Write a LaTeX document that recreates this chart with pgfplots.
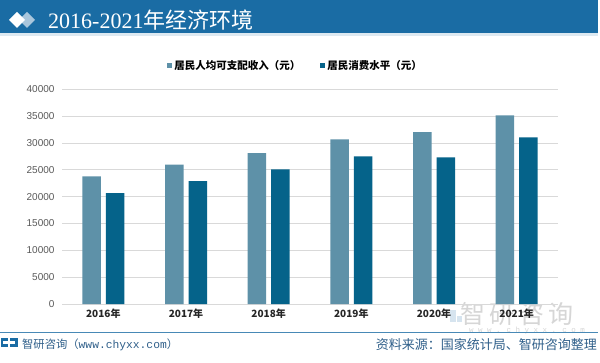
\documentclass[border=0pt]{standalone}
\usepackage{pgfplots}
\pgfplotsset{compat=1.18}
\usepackage{fontspec}
\setmainfont{Liberation Sans}
\newfontfamily\cjk{Noto Sans CJK SC}
\newfontfamily\serifnum{Liberation Serif}
\newfontfamily\mono{Liberation Mono}
\definecolor{lightbar}{HTML}{5E91A8}
\definecolor{darkbar}{HTML}{05638A}
\definecolor{band}{HTML}{1A6CA4}
\definecolor{foot}{HTML}{2F5F8A}
\definecolor{gridc}{HTML}{D9D9D9}
\definecolor{diam}{HTML}{A9C6DC}
\definecolor{ticktxt}{HTML}{595959}

\begin{document}
\begin{tikzpicture}[x=1pt,y=1pt]
\useasboundingbox (0,0) rectangle (600,362);
\fill[white] (0,0) rectangle (600,362);
% header band
\fill[band] (0,329) rectangle (598,362);
\fill[band!15] (0,326) rectangle (598,329);
\fill[diam] (19,342)--(27,350)--(35,342)--(27,334)--cycle;
\fill[white] (9,342)--(17,350)--(25,342)--(17,334)--cycle;
\node[anchor=west, text=white, inner sep=0pt] at (48,342)
  {\fontsize{22}{24}\selectfont{\serifnum 2016-2021}{\cjk 年经济环境}};
% watermark bottom right
\fill[band!18] (450,40) rectangle (456,52);
\fill[band!18] (457,40) rectangle (462,46);
\node[text=black!16, inner sep=0pt] at (517,48) {\cjk\fontsize{25}{25}\selectfont 智\,研\,咨\,询};
\node[text=black!16, inner sep=0pt] at (527,31) {\mono\fontsize{7.5}{8}\selectfont w w w . c h y x x . c o m};
% footer
\draw[band!80, line width=1pt] (0,29.5) -- (598,29.5);
\fill[band] (1,15) rectangle (8,24);
\fill[white] (3,18) rectangle (8,21);
\fill[band] (10,15) rectangle (18,24);
\fill[white] (10,18) rectangle (15,21);
\node[anchor=west, text=foot, inner sep=0pt] at (22,17.5)
  {\fontsize{11.3}{12}\selectfont{\cjk 智研咨询（}{\mono www.chyxx.com}{\cjk ）}};
\node[anchor=east, text=foot, inner sep=0pt] at (597,17.5)
  {\cjk\fontsize{13}{14}\selectfont 资料来源：国家统计局、智研咨询整理};

\begin{axis}[
  at={(62pt,58pt)}, anchor=south west,
  scale only axis, width=496pt, height=214.7pt,
  xmin=-0.5, xmax=5.5, ymin=0, ymax=40000,
  ytick={0,5000,...,40000},
  xtick={0,...,5},
  xticklabels={2016年,2017年,2018年,2019年,2020年,2021年},
  ymajorgrids, grid style={gridc, line width=0.8pt},
  axis line style={draw=none},
  major tick length=0pt,
  scaled y ticks=false,
  /pgf/number format/1000 sep={},
  /pgf/number format/assume math mode=true,
  yticklabel style={font=\fontsize{10}{11}\selectfont, text=ticktxt, xshift=-4pt},
  xticklabel style={font=\cjk\bfseries\fontsize{10}{11}\selectfont, text=black!85, yshift=-1pt},
  ybar,
  legend style={at={(0.471,1)}, anchor=south, yshift=14pt, draw=none, fill=none,
    legend columns=2, font=\cjk\bfseries\fontsize{10.5}{12}\selectfont,
    /tikz/every even column/.append style={column sep=18pt}},
  legend image code/.code={\fill[#1] (0pt,-2.5pt) rectangle (5pt,2.5pt);},
]
\addplot[fill=lightbar, draw=none, bar width=18.5pt, bar shift=-11.75pt]
  coordinates {(0,23790) (1,25950) (2,28130) (3,30680) (4,32040) (5,35150)};
\addplot[fill=darkbar, draw=none, bar width=18.5pt, bar shift=11.75pt]
  coordinates {(0,20680) (1,22915) (2,25090) (3,27510) (4,27330) (5,31050)};
\legend{居民人均可支配收入（元）, 居民消费水平（元）}
\end{axis}
\end{tikzpicture}
\end{document}
